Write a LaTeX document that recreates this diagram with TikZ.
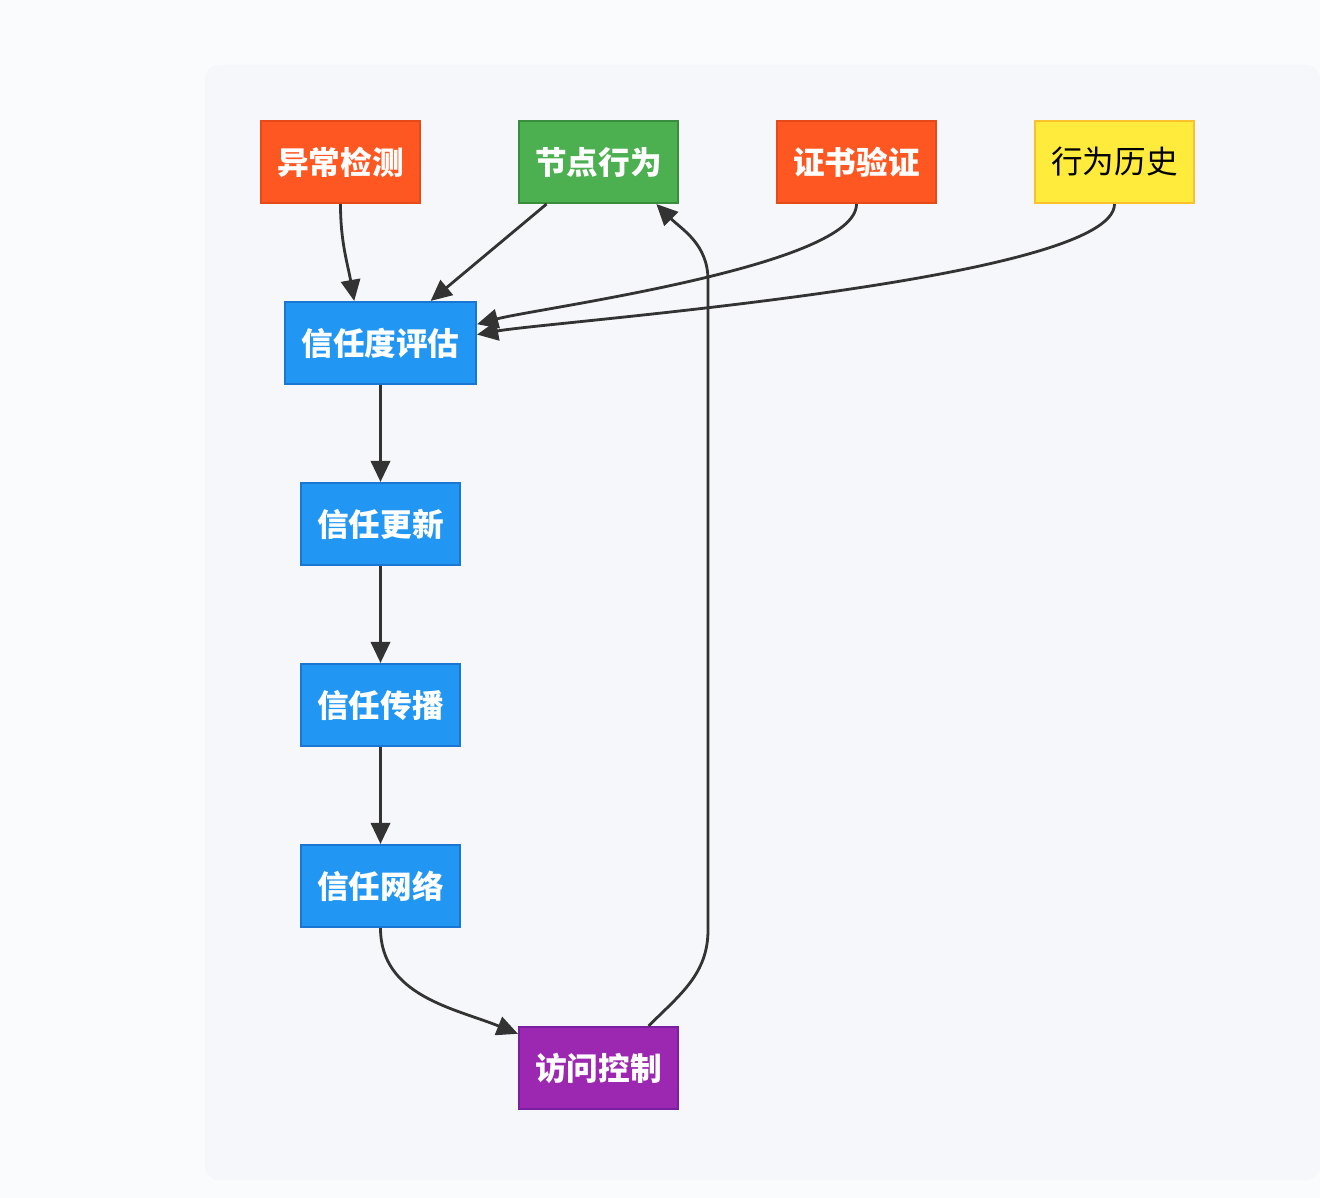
\documentclass[tikz,border=0pt]{standalone}
\usepackage{fontspec}
\setmainfont{Noto Sans CJK SC}
\usepackage{tikz}
\usetikzlibrary{shapes, arrows.meta, positioning, backgrounds}
\definecolor{panelbg}{HTML}{F5F7FA}
\definecolor{pagebg}{HTML}{FAFBFC}
\definecolor{edgegray}{HTML}{333333}
\definecolor{orangefill}{HTML}{FF5722}
\definecolor{orangeline}{HTML}{E64A19}
\definecolor{greenfill}{HTML}{4CAF50}
\definecolor{greenline}{HTML}{388E3C}
\definecolor{yellowfill}{HTML}{FFEB3B}
\definecolor{yellowline}{HTML}{FBC02D}
\definecolor{bluefill}{HTML}{2196F3}
\definecolor{blueline}{HTML}{1976D2}
\definecolor{purplefill}{HTML}{9C27B0}
\definecolor{purpleline}{HTML}{7B1FA2}
\tikzstyle{block} = [rectangle, minimum width=3.18cm, minimum height=1.64cm, text centered, line width=1.2pt, text=white, font=\bfseries\fontsize{18}{20}\selectfont]
\tikzstyle{orangebox} = [block, fill=orangefill, draw=orangeline]
\tikzstyle{greenbox} = [block, fill=greenfill, draw=greenline]
\tikzstyle{yellowbox} = [block, fill=yellowfill, draw=yellowline, text=black, font=\fontsize{18}{20}\selectfont]
\tikzstyle{bluebox} = [block, fill=bluefill, draw=blueline]
\tikzstyle{purplebox} = [block, fill=purplefill, draw=purpleline]
\tikzstyle{arrow} = [-{Triangle[length=12pt, width=11pt]}, line width=1.6pt, draw=edgegray]

\begin{document}
\begin{tikzpicture}
    \useasboundingbox (0, 0) rectangle (26.4, -23.96);
    \fill [pagebg] (0, 0) rectangle (26.4, -23.96);
    \fill [panelbg, rounded corners=8pt] (4.1, -1.3) rectangle (26.4, -23.6);

    % sources
    \node (anom) [orangebox] at (6.81, -3.24) {异常检测};
    \node (behav) [greenbox] at (11.97, -3.24) {节点行为};
    \node (cert) [orangebox] at (17.13, -3.24) {证书验证};
    \node (hist) [yellowbox] at (22.29, -3.24) {行为历史};

    % chain
    \node (eval) [bluebox, minimum width=3.82cm] at (7.61, -6.86) {信任度评估};
    \node (upd) [bluebox] at (7.61, -10.48) {信任更新};
    \node (prop) [bluebox] at (7.61, -14.10) {信任传播};
    \node (net) [bluebox] at (7.61, -17.72) {信任网络};
    \node (acc) [purplebox] at (11.97, -21.36) {访问控制};

    \coordinate (loopbot) at (14.16, -18.6);
    \coordinate (looptop) at (14.16, -5.6);

    \draw [arrow] (anom.south) to[out=-90, in=100] (eval.122);
    \draw [arrow] (behav.219) -- (eval.40);
    \draw [arrow] (cert.south) to[out=-90, in=15, looseness=0.4] (eval.11);
    \draw [arrow] (hist.south) to[out=-90, in=10, looseness=0.3] (eval.5);

    \draw [arrow] (eval) -- (upd);
    \draw [arrow] (upd) -- (prop);
    \draw [arrow] (prop) -- (net);
    \draw [arrow] (net.south) to[out=-90, in=158] (acc.157);

    \draw [arrow] (acc.40) to[out=45, in=-90] (loopbot) -- (looptop) to[out=90, in=-45] (behav.-36);

\end{tikzpicture}
\end{document}
